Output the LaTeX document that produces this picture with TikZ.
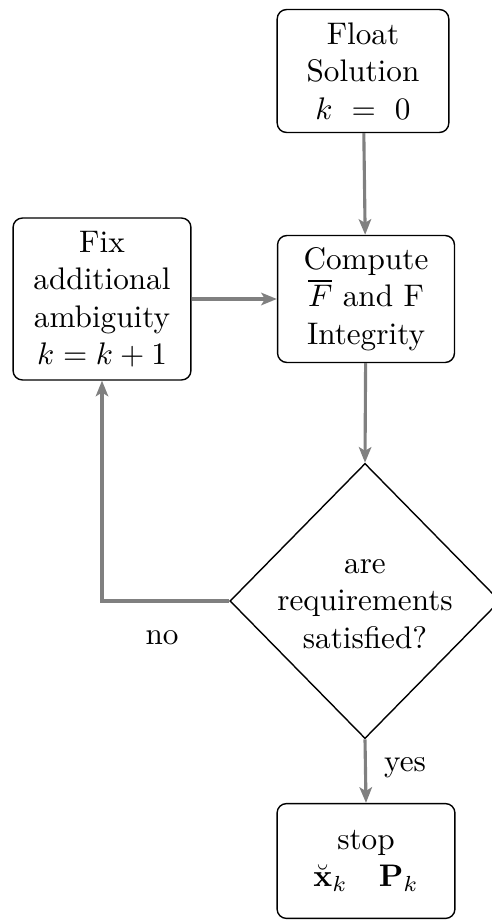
\documentclass[tikz,border=0pt]{standalone}
\usetikzlibrary{shapes.geometric,arrows.meta}
\begin{document}
\begin{tikzpicture}[x=0.3205pt,y=-0.3205pt,
  box/.style={draw,rounded corners=3pt,line width=0.45pt,align=center,inner sep=0pt},
  flow/.style={draw=black!50,line width=1pt,-{Stealth[length=5pt,width=4pt,inset=1.2pt]}},
  lbl/.style={inner sep=0pt}]
\useasboundingbox (0,0) rectangle (492,924);
\node[box,minimum width=55pt,minimum height=39.4pt] (float) at (363,71) {Float\\Solution\\$k\ =\ 0$};
\node[box,minimum width=56.7pt,minimum height=40.7pt] (comp) at (366,299) {Compute\\$\overline{F}$ and F\\Integrity};
\node[box,minimum width=57pt,minimum height=51.9pt] (fix) at (102,299) {Fix\\additional\\ambiguity\\$k=k+1$};
\node[draw,diamond,line width=0.45pt,minimum width=86.6pt,minimum height=88.2pt,inner sep=0pt] (dec) at (365,601) {};
\node[align=center,inner sep=0pt] (dectext) at (365,604) {are\\requirements\\satisfied?};
\node[box,minimum width=57pt,minimum height=36.8pt] (stop) at (366,861) {stop\\$\breve{\mathbf{x}}_k\quad\mathbf{P}_k$};
\coordinate (corner) at (dec.west -| fix.south);
\draw[flow] (float) -- (comp);
\draw[flow] (comp) -- (dec.north);
\draw[flow] (fix) -- (comp);
\draw[flow] (dec.west) -- (corner) -- (fix.south);
\draw[flow] (dec.south) -- (stop.north);
\node[lbl] (no) at (162,638) {no};
\node[lbl] (yes) at (405,768) {yes};
\end{tikzpicture}
\end{document}
